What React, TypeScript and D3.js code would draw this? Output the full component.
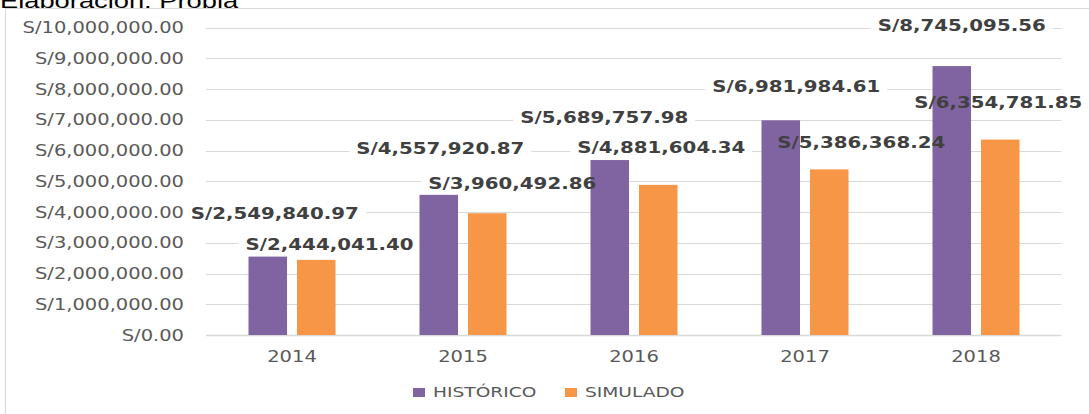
import React from 'react';
import * as d3 from 'd3';

const categories = ['2014', '2015', '2016', '2017', '2018'];
const seriesNames = ['HISTÓRICO', 'SIMULADO'];
const historico = [2549840.97, 4557920.87, 5689757.98, 6981984.61, 8745095.56];
const simulado = [2444041.4, 3960492.86, 4881604.34, 5386368.24, 6354781.85];
const yTickValues = [0, 1000000, 2000000, 3000000, 4000000, 5000000, 6000000, 7000000, 8000000, 9000000, 10000000];
// manual label placement (pixels relative to bar top centre), as in the source chart
const histLabelOffsets = [[7, -37.3], [1.5, -41.1], [-5.5, -37.3], [15.5, -28.3], [10, -35.1]];
const simLabelOffsets = [[13.3, -9.5], [25, -23.9], [3, -32.2], [32, -21.7], [-2, -31.9]];

const colors = ['#8064A2', '#F79646'];
const W = 1089;
const H = 414;
const SX = 1.32;

const fmt = (v: number) => 'S/' + d3.format(',.2f')(v);

export default function App() {
  const x0 = d3.scaleBand<string>().domain(categories).range([206.5, 1061.5]).paddingInner(0).paddingOuter(0);
  const x1 = d3.scaleBand<string>().domain(seriesNames).range([0, x0.bandwidth()]).paddingInner(0.206).paddingOuter(0.866);
  const y = d3.scaleLinear().domain([0, 10000000]).range([335, 27.5]);
  const series = [historico, simulado];
  const offsets = [histLabelOffsets, simLabelOffsets];

  const labels: { x: number; y: number; text: string }[] = [];
  series.forEach((vals, si) => {
    vals.forEach((v, i) => {
      const cx = (x0(categories[i]) as number) + (x1(seriesNames[si]) as number) + x1.bandwidth() / 2;
      labels.push({ x: cx + offsets[si][i][0], y: y(v) + offsets[si][i][1], text: fmt(v) });
    });
  });

  return (
    <div style={{ position: 'absolute', left: 0, top: 0 }}>
      <svg width={W} height={H} style={{ display: 'block' }}>
        <rect x={0} y={0} width={W} height={H} fill="#fff" />
        <text transform={`translate(0,8) scale(1.3,1)`} fontFamily="Liberation Sans, Arial, sans-serif" fontSize={21} fill="#000">
          Elaboración: Propia
        </text>
        <rect x={5.5} y={8.5} width={W} height={H} fill="#fff" stroke="#d9d9d9" strokeWidth={1} />
        {/* gridlines */}
        {yTickValues.map((t) => (
          <line key={'g' + t} x1={206} x2={1061.5} y1={Math.round(y(t)) + 0.5} y2={Math.round(y(t)) + 0.5} stroke="#d9d9d9" strokeWidth={t === 0 ? 1.5 : 1} />
        ))}
        {/* tick labels */}
        {yTickValues.map((t) => (
          <text key={'t' + t} transform={`translate(184,${y(t) + 5.5}) scale(1.3,1)`} textAnchor="end" fontFamily="DejaVu Sans, Verdana, sans-serif" fontSize={15} fill="#595959">
            {fmt(t)}
          </text>
        ))}
        {/* label backgrounds */}
        {labels.map((l, i) => (
          <rect key={'lb' + i} x={l.x - 91} y={l.y - 15} width={182} height={20} fill="#fff" />
        ))}
        {/* bars */}
        {series.map((vals, si) =>
          vals.map((v, i) => (
            <rect
              key={'b' + si + i}
              x={(x0(categories[i]) as number) + (x1(seriesNames[si]) as number)}
              y={y(v)}
              width={x1.bandwidth()}
              height={y(0) - y(v)}
              fill={colors[si]}
            />
          ))
        )}
        {/* data labels */}
        {labels.map((l, i) => (
          <text key={'l' + i} transform={`translate(${l.x},${l.y}) scale(${SX},1)`} textAnchor="middle" fontFamily="DejaVu Sans, Verdana, sans-serif" fontWeight="bold" fontSize={15} fill="#404040">
            {l.text}
          </text>
        ))}
        {/* x axis labels */}
        {categories.map((c) => (
          <text key={'x' + c} transform={`translate(${(x0(c) as number) + x0.bandwidth() / 2},362) scale(1.3,1)`} textAnchor="middle" fontFamily="DejaVu Sans, Verdana, sans-serif" fontSize={15} fill="#595959">
            {c}
          </text>
        ))}
        {/* legend */}
        {seriesNames.map((s, i) => {
          const lx = [413, 565][i];
          return (
            <g key={'lg' + s}>
              <rect x={lx} y={388} width={12} height={9} fill={colors[i]} />
              <text transform={`translate(${lx + 20},397) scale(1.33,1)`} fontFamily="DejaVu Sans, Verdana, sans-serif" fontSize={14} fill="#595959">
                {s}
              </text>
            </g>
          );
        })}
      </svg>
    </div>
  );
}
